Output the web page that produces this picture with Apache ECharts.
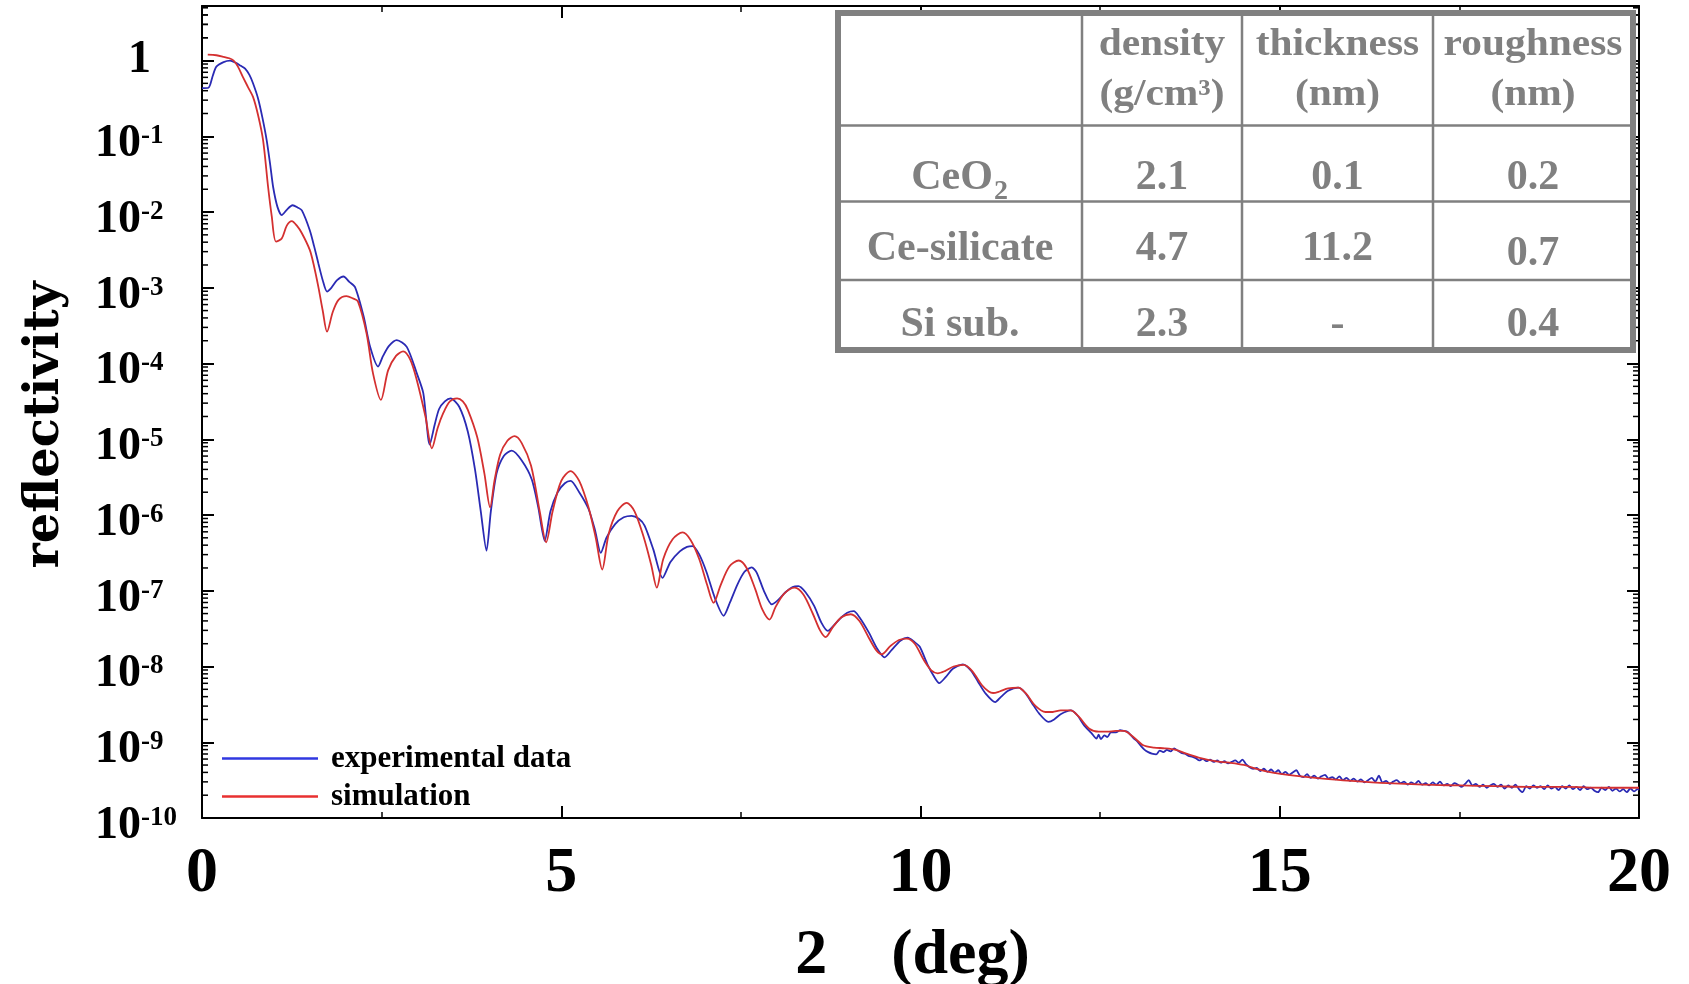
<!DOCTYPE html>
<html>
<head>
<meta charset="utf-8">
<script src="https://cdn.jsdelivr.net/npm/echarts@6/dist/echarts.min.js"></script>
<style>
html,body{margin:0;padding:0;background:#fff;}
#chart{width:1689px;height:984px;}
</style>
</head>
<body>
<div id="chart"></div>
<script>
// ---------- data ----------
const xTickValues = [0, 5, 10, 15, 20];
const yTickExponents = [-10, -9, -8, -7, -6, -5, -4, -3, -2, -1, 0];
const xAxisTitle = '2    (deg)';
const yAxisTitle = 'reflectivity';
const seriesNames = ['experimental data', 'simulation'];

const tableHeaders = ['', 'density\n(g/cm³)', 'thickness\n(nm)', 'roughness\n(nm)'];
const tableLayers = ['CeO2', 'Ce-silicate', 'Si sub.'];
const densityValues = ['2.1', '4.7', '2.3'];
const thicknessValues = ['0.1', '11.2', '-'];
const roughnessValues = ['0.2', '0.7', '0.4'];

const experimentalData = [
[0.00,4.32e-1],[0.09,4.37e-1],[0.15,6.31e-1],[0.20,8.32e-1],[0.30,9.55e-1],[0.39,1.0],[0.47,9.33e-1],[0.54,8.51e-1],
[0.60,7.83e-1],[0.66,6.46e-1],[0.71,5.01e-1],[0.78,3.16e-1],[0.84,1.78e-1],[0.90,8.91e-2],[0.95,4.17e-2],[0.99,2.14e-2],
[1.05,1.17e-2],[1.11,9.12e-3],[1.18,1.07e-2],[1.26,1.23e-2],[1.33,1.15e-2],[1.39,1.05e-2],[1.50,5.75e-3],[1.56,3.55e-3],
[1.62,2.09e-3],[1.68,1.26e-3],[1.74,8.91e-4],[1.80,1.0e-3],[1.88,1.26e-3],[1.97,1.41e-3],[2.05,1.20e-3],[2.13,1.02e-3],
[2.25,4.17e-4],[2.34,1.66e-4],[2.45,9.12e-5],[2.52,1.26e-4],[2.60,1.70e-4],[2.71,2.04e-4],[2.85,1.66e-4],[2.99,7.41e-5],
[3.08,4.07e-5],[3.17,8.51e-6],[3.24,1.58e-5],[3.30,2.51e-5],[3.38,3.16e-5],[3.46,3.47e-5],[3.58,2.69e-5],[3.70,1.26e-5],
[3.80,3.98e-6],[3.88,1.12e-6],[3.96,3.39e-7],[4.02,1.12e-6],[4.10,3.55e-6],[4.20,6.03e-6],[4.31,7.08e-6],[4.45,5.25e-6],
[4.59,2.95e-6],[4.68,1.26e-6],[4.77,4.57e-7],[4.85,1.12e-6],[4.95,2.0e-6],[5.05,2.63e-6],[5.13,2.82e-6],[5.25,2.0e-6],
[5.38,1.20e-6],[5.47,6.31e-7],[5.55,3.16e-7],[5.63,5.01e-7],[5.75,7.59e-7],[5.87,9.33e-7],[5.98,9.77e-7],[6.08,8.91e-7],
[6.16,7.24e-7],[6.28,3.55e-7],[6.41,1.48e-7],[6.52,2.40e-7],[6.65,3.31e-7],[6.75,3.80e-7],[6.83,3.89e-7],[6.92,3.02e-7],
[7.02,1.78e-7],[7.14,7.94e-8],[7.26,4.68e-8],[7.35,7.08e-8],[7.45,1.20e-7],[7.55,1.78e-7],[7.65,2.04e-7],[7.72,1.74e-7],
[7.82,1.0e-7],[7.93,6.61e-8],[8.02,7.59e-8],[8.12,9.55e-8],[8.22,1.12e-7],[8.30,1.15e-7],[8.40,9.55e-8],[8.52,6.31e-8],
[8.62,3.80e-8],[8.71,2.95e-8],[8.80,3.55e-8],[8.90,4.47e-8],[8.98,5.13e-8],[9.07,5.37e-8],[9.15,4.47e-8],[9.28,2.82e-8],
[9.40,1.70e-8],[9.50,1.32e-8],[9.60,1.66e-8],[9.72,2.19e-8],[9.82,2.40e-8],[9.92,2.09e-8],[9.99,1.82e-8],[10.10,1.05e-8],
[10.18,7.59e-9],[10.26,6.03e-9],[10.35,7.24e-9],[10.45,9.33e-9],[10.59,1.07e-8],[10.70,8.91e-9],[10.80,6.31e-9],[10.90,4.47e-9],
[11.04,3.39e-9],[11.12,3.98e-9],[11.22,4.79e-9],[11.36,5.25e-9],[11.45,4.57e-9],[11.55,3.31e-9],[11.65,2.40e-9],[11.78,1.86e-9],
[11.86,2.0e-9],[11.95,2.34e-9],[12.09,2.63e-9],[12.18,2.29e-9],[12.28,1.66e-9],[12.38,1.32e-9],[12.45,1.12e-9],[12.48,1.26e-9],
[12.51,1.10e-9],[12.56,1.23e-9],[12.60,1.17e-9],[12.65,1.35e-9],[12.72,1.35e-9],[12.78,1.45e-9],[12.83,1.41e-9],[12.88,1.38e-9],
[12.92,1.26e-9],[12.97,1.12e-9],[13.02,1.02e-9],[13.07,8.91e-10],[13.12,7.94e-10],[13.17,7.41e-10],[13.22,7.08e-10],[13.28,6.92e-10],
[13.33,7.76e-10],[13.38,7.41e-10],[13.43,7.94e-10],[13.48,7.59e-10],[13.53,8.32e-10],[13.58,7.76e-10],[13.63,7.24e-10],[13.68,7.08e-10],
[13.73,6.61e-10],[13.78,6.46e-10],[13.83,6.17e-10],[13.88,5.75e-10],[13.93,6.03e-10],[13.98,5.62e-10],[14.03,5.89e-10],[14.08,5.50e-10],
[14.13,5.75e-10],[14.18,5.37e-10],[14.23,5.62e-10],[14.28,5.25e-10],[14.33,5.50e-10],[14.38,5.75e-10],[14.43,5.37e-10],[14.48,5.89e-10],
[14.53,5.13e-10],[14.58,4.68e-10],[14.63,4.47e-10],[14.68,4.57e-10],[14.73,4.17e-10],[14.78,4.47e-10],[14.83,4.07e-10],[14.88,4.37e-10],
[14.93,3.98e-10],[14.98,4.27e-10],[15.03,3.80e-10],[15.08,4.07e-10],[15.13,3.72e-10],[15.18,3.98e-10],[15.23,4.27e-10],[15.28,3.63e-10],
[15.33,3.47e-10],[15.38,3.80e-10],[15.43,3.39e-10],[15.48,3.63e-10],[15.53,3.31e-10],[15.58,3.55e-10],[15.63,3.72e-10],[15.68,3.31e-10],
[15.73,3.47e-10],[15.78,3.24e-10],[15.83,3.55e-10],[15.88,3.16e-10],[15.93,3.39e-10],[15.98,3.09e-10],[16.03,3.31e-10],[16.08,3.02e-10],
[16.13,3.24e-10],[16.18,2.95e-10],[16.23,3.16e-10],[16.28,3.39e-10],[16.33,3.02e-10],[16.38,3.63e-10],[16.43,2.95e-10],[16.48,3.09e-10],
[16.53,2.82e-10],[16.58,3.02e-10],[16.63,3.16e-10],[16.68,2.88e-10],[16.73,3.02e-10],[16.78,2.75e-10],[16.83,2.95e-10],[16.88,2.82e-10],
[16.93,3.09e-10],[16.98,2.75e-10],[17.03,2.88e-10],[17.08,2.69e-10],[17.13,2.95e-10],[17.18,2.75e-10],[17.23,3.02e-10],[17.28,2.69e-10],
[17.33,2.82e-10],[17.38,2.63e-10],[17.43,2.88e-10],[17.48,2.75e-10],[17.53,2.57e-10],[17.58,2.82e-10],[17.63,3.16e-10],[17.68,2.69e-10],
[17.73,2.82e-10],[17.78,2.57e-10],[17.83,2.75e-10],[17.88,2.51e-10],[17.93,2.69e-10],[17.98,2.82e-10],[18.03,2.57e-10],[18.08,2.75e-10],
[18.13,2.45e-10],[18.18,2.69e-10],[18.23,2.51e-10],[18.28,2.75e-10],[18.33,2.40e-10],[18.38,2.19e-10],[18.43,2.63e-10],[18.48,2.45e-10],
[18.53,2.69e-10],[18.58,2.51e-10],[18.63,2.63e-10],[18.68,2.40e-10],[18.73,2.69e-10],[18.78,2.45e-10],[18.83,2.57e-10],[18.88,2.34e-10],
[18.93,2.63e-10],[18.98,2.45e-10],[19.03,2.69e-10],[19.08,2.40e-10],[19.13,2.57e-10],[19.18,2.34e-10],[19.23,2.63e-10],[19.28,2.40e-10],
[19.33,2.51e-10],[19.38,2.29e-10],[19.43,2.19e-10],[19.48,2.51e-10],[19.53,2.34e-10],[19.58,2.57e-10],[19.63,2.29e-10],[19.68,2.45e-10],
[19.73,2.24e-10],[19.78,2.40e-10],[19.83,2.19e-10],[19.88,2.45e-10],[19.93,2.24e-10],[19.98,2.40e-10],[20.00,2.34e-10]
];

const simulationData = [
[0.08,1.20],[0.20,1.175],[0.30,1.122],[0.38,1.072],[0.44,1.0],[0.50,8.32e-1],[0.57,6.03e-1],[0.64,4.47e-1],
[0.71,3.31e-1],[0.78,1.91e-1],[0.85,8.91e-2],[0.92,2.14e-2],[0.97,8.91e-3],[1.03,4.07e-3],[1.11,4.47e-3],[1.18,6.61e-3],
[1.25,7.59e-3],[1.32,6.61e-3],[1.39,5.25e-3],[1.50,3.16e-3],[1.56,1.91e-3],[1.62,1.02e-3],[1.68,5.01e-4],[1.74,2.63e-4],
[1.82,4.79e-4],[1.90,6.92e-4],[2.01,7.76e-4],[2.10,7.24e-4],[2.17,6.61e-4],[2.29,2.51e-4],[2.38,7.41e-5],[2.49,3.31e-5],
[2.59,8.13e-5],[2.70,1.26e-4],[2.80,1.45e-4],[2.90,1.12e-4],[2.99,6.03e-5],[3.11,2.0e-5],[3.20,7.59e-6],[3.28,1.41e-5],
[3.36,2.24e-5],[3.45,3.16e-5],[3.55,3.47e-5],[3.63,3.16e-5],[3.70,2.45e-5],[3.83,1.07e-5],[3.93,3.55e-6],[4.01,1.26e-6],
[4.07,2.82e-6],[4.15,6.31e-6],[4.25,9.55e-6],[4.35,1.10e-5],[4.45,8.91e-6],[4.58,4.47e-6],[4.70,1.12e-6],[4.79,4.37e-7],
[4.88,1.12e-6],[5.00,2.82e-6],[5.13,3.80e-6],[5.25,2.82e-6],[5.38,1.26e-6],[5.48,5.01e-7],[5.57,1.91e-7],[5.66,5.62e-7],
[5.78,1.12e-6],[5.91,1.45e-6],[6.02,1.12e-6],[6.15,5.01e-7],[6.25,2.24e-7],[6.33,1.10e-7],[6.42,2.63e-7],[6.55,4.79e-7],
[6.69,5.89e-7],[6.80,4.68e-7],[6.92,2.63e-7],[7.03,1.20e-7],[7.12,6.92e-8],[7.22,1.20e-7],[7.34,2.09e-7],[7.47,2.51e-7],
[7.58,2.0e-7],[7.70,1.05e-7],[7.80,5.62e-8],[7.90,4.17e-8],[7.98,6.03e-8],[8.10,9.12e-8],[8.25,1.10e-7],[8.37,8.91e-8],
[8.50,5.01e-8],[8.60,3.02e-8],[8.68,2.45e-8],[8.78,3.31e-8],[8.90,4.47e-8],[9.03,4.90e-8],[9.15,3.98e-8],[9.28,2.40e-8],
[9.38,1.66e-8],[9.46,1.45e-8],[9.58,1.86e-8],[9.70,2.24e-8],[9.81,2.34e-8],[9.92,2.0e-8],[10.05,1.20e-8],[10.15,8.91e-9],
[10.24,8.13e-9],[10.34,8.71e-9],[10.46,1.0e-8],[10.60,1.05e-8],[10.72,8.71e-9],[10.85,5.75e-9],[10.95,4.68e-9],[11.01,4.47e-9],
[11.10,4.68e-9],[11.22,5.13e-9],[11.36,5.25e-9],[11.47,4.37e-9],[11.60,3.02e-9],[11.74,2.51e-9],[11.84,2.51e-9],[11.95,2.63e-9],
[12.09,2.63e-9],[12.20,2.19e-9],[12.35,1.51e-9],[12.48,1.38e-9],[12.60,1.38e-9],[12.72,1.41e-9],[12.83,1.41e-9],[12.95,1.20e-9],
[13.10,9.12e-10],[13.25,8.51e-10],[13.40,8.32e-10],[13.55,7.94e-10],[13.70,7.08e-10],[13.90,6.17e-10],[14.10,5.62e-10],[14.30,5.37e-10],
[14.50,5.01e-10],[14.70,4.37e-10],[14.90,3.98e-10],[15.20,3.63e-10],[15.60,3.31e-10],[16.00,3.09e-10],[16.50,2.88e-10],[17.00,2.75e-10],
[17.50,2.69e-10],[18.00,2.63e-10],[18.50,2.57e-10],[19.00,2.57e-10],[19.50,2.51e-10],[20.00,2.51e-10]
];

// ---------- style / layout ----------
const SERIF = "'Liberation Serif','Times New Roman',serif";
const BLACK = '#000';
const GRAY = '#808080';
const X_MIN = 0, X_MAX = 20, Y_MIN = 1e-10, Y_MAX = 5.25;
const Y_EXP_MAX = Math.log10(Y_MAX);

// minor log ticks (2..9 per decade)
const minorTickValues = [];
for (let d = -10; d <= 0; d++) {
  for (let m = 2; m <= 9; m++) {
    const v = m * Math.pow(10, d);
    if (v < Y_MAX) minorTickValues.push(v);
  }
}
for (let m = 2; m <= 9; m++) { if (m < Y_MAX) minorTickValues.push(m); }

function yLabel(value) {
  const n = Math.round(value);
  if (Math.abs(value - n) > 1e-6 || yTickExponents.indexOf(n) < 0) return '';
  if (n === 0) return '{one|1}';
  return '{b|10}{s|' + n + '}';
}

// table graphics
const colX = [838, 1082, 1242, 1433, 1633];
const rowY = [13, 125.5, 201.5, 280, 350];
const rowTextY = [178, 249, 325];
const tableEls = [];
tableEls.push({type:'rect', shape:{x:colX[0], y:rowY[0], width:colX[4]-colX[0], height:rowY[4]-rowY[0]},
  style:{fill:'#fff', stroke:GRAY, lineWidth:6}, z:100});
for (let i = 1; i < 4; i++) {
  tableEls.push({type:'line', shape:{x1:colX[i], y1:rowY[0], x2:colX[i], y2:rowY[4]}, style:{stroke:GRAY, lineWidth:2.5}, z:101});
  tableEls.push({type:'line', shape:{x1:colX[0], y1:rowY[i], x2:colX[4], y2:rowY[i]}, style:{stroke:GRAY, lineWidth:2.5}, z:101});
}
function cellText(txt, cx, cy, size, extra, styleExtra) {
  return Object.assign({type:'text', x:cx, y:cy, z:102,
    style:Object.assign({text:txt, fontSize:size, fontWeight:'bold', fontFamily:SERIF, fill:GRAY,
      align:'center', verticalAlign:'middle', textAlign:'center', textVerticalAlign:'middle', lineHeight:50}, styleExtra || {})}, extra || {});
}
for (let c = 1; c < 4; c++) {
  tableEls.push(cellText(tableHeaders[c], (colX[c]+colX[c+1])/2, 70, 37, {scaleX:1.12}));
}
const bodyCols = [densityValues, thicknessValues, roughnessValues];
for (let r = 0; r < 3; r++) {
  const cx0 = (colX[0]+colX[1])/2;
  if (tableLayers[r] === 'CeO2') {
    tableEls.push(cellText('CeO', cx0 - 8, rowTextY[r], 42));
    tableEls.push(cellText('2', cx0 + 34, rowTextY[r] + 14, 28, null, {align:'left', textAlign:'left'}));
  } else {
    tableEls.push(cellText(tableLayers[r], cx0, rowTextY[r], 42));
  }
  for (let c = 0; c < 3; c++) {
    let cy = rowTextY[r];
    if (r === 1 && c === 2) cy += 5;
    tableEls.push(cellText(bodyCols[c][r], (colX[c+1]+colX[c+2])/2, cy, 42));
  }
}

const axisLineStyle = {show:true, onZero:false, lineStyle:{color:BLACK, width:2}};

const option = {
  animation: false,
  backgroundColor: '#fff',
  grid: {left:202, right:50, top:6, bottom:166, containLabel:false, outerBoundsMode:'none'},
  legend: {
    data: [{name:seriesNames[0], itemStyle:{color:'#3038e0'}}, {name:seriesNames[1], itemStyle:{color:'#e83030'}}],
    orient:'vertical', left:217, top:738, itemWidth:96, itemHeight:2.5, itemGap:7, icon:'rect',
    textStyle:{fontSize:31, fontWeight:'bold', fontFamily:SERIF, color:BLACK, lineHeight:31, padding:[0,0,0,8]}
  },
  xAxis: [
    {type:'value', min:X_MIN, max:X_MAX, interval:5, position:'bottom',
     axisLine:axisLineStyle, splitLine:{show:false},
     axisTick:{show:true, inside:true, length:12, lineStyle:{color:BLACK, width:2}},
     minorTick:{show:true, splitNumber:2, length:6, lineStyle:{color:BLACK, width:1.5}},
     axisLabel:{show:true, margin:24, fontSize:64, fontWeight:'bold', fontFamily:SERIF, color:BLACK,
       formatter: v => (xTickValues.indexOf(v) >= 0 ? String(v) : '')},
     name:xAxisTitle, nameLocation:'middle', nameGap:106,
     nameTextStyle:{fontSize:64, fontWeight:'bold', fontFamily:SERIF, color:BLACK, padding:[0,16,0,0]}},
    {type:'value', min:X_MIN, max:X_MAX, interval:5, position:'top',
     axisLine:axisLineStyle, splitLine:{show:false},
     axisTick:{show:true, inside:true, length:12, lineStyle:{color:BLACK, width:2}},
     minorTick:{show:true, splitNumber:2, length:6, lineStyle:{color:BLACK, width:1.5}},
     axisLabel:{show:false}}
  ],
  yAxis: [
    {type:'log', logBase:10, min:Y_MIN, max:Y_MAX, show:false, position:'left'},
    {type:'value', min:-10, max:Y_EXP_MAX, interval:1, position:'left',
     axisLine:axisLineStyle, splitLine:{show:false},
     axisTick:{show:true, inside:true, length:12, lineStyle:{color:BLACK, width:2}},
     axisLabel:{show:true, align:'left', margin:107, formatter:yLabel,
       rich:{
         b:{fontSize:46, fontWeight:'bold', fontFamily:SERIF, color:BLACK, lineHeight:46, verticalAlign:'bottom'},
         s:{fontSize:27, fontWeight:'bold', fontFamily:SERIF, color:BLACK, lineHeight:62, verticalAlign:'middle'},
         one:{fontSize:46, fontWeight:'bold', fontFamily:SERIF, color:BLACK, lineHeight:46, padding:[0,0,0,33]}
       }}},
    {type:'value', min:-10, max:Y_EXP_MAX, interval:1, position:'right',
     axisLine:axisLineStyle, splitLine:{show:false},
     axisTick:{show:true, inside:true, length:12, lineStyle:{color:BLACK, width:2}},
     axisLabel:{show:false}}
  ],
  graphic: {elements: [
    {type:'text', x:46, y:425, rotation:Math.PI/2, z:50,
     style:{text:yAxisTitle, fontSize:48, fontWeight:'bold', fontFamily:"'DejaVu Serif',serif", fill:BLACK,
       align:'center', verticalAlign:'middle', textAlign:'center', textVerticalAlign:'middle'}}
  ].concat(tableEls)},
  series: [
    {type:'custom', name:'minorTicks', xAxisIndex:0, yAxisIndex:0, silent:true, z:1,
     data: minorTickValues.map(v => [X_MIN, v]),
     renderItem: function (params, api) {
       const v = api.value(1);
       const l = api.coord([X_MIN, v]);
       const r = api.coord([X_MAX, v]);
       return {type:'group', children:[
         {type:'line', shape:{x1:l[0], y1:l[1], x2:l[0]+6, y2:l[1]}, style:{stroke:BLACK, lineWidth:1.5}},
         {type:'line', shape:{x1:r[0]-6, y1:r[1], x2:r[0], y2:r[1]}, style:{stroke:BLACK, lineWidth:1.5}}
       ]};
     }},
    {type:'line', name:seriesNames[0], xAxisIndex:0, yAxisIndex:0, data:experimentalData,
     symbol:'none', smooth:0.25, z:3,
     lineStyle:{color:'#2a2ab4', width:1.8}, itemStyle:{color:'#2a2ab4'}},
    {type:'line', name:seriesNames[1], xAxisIndex:0, yAxisIndex:0, data:simulationData,
     symbol:'none', smooth:0.3, z:4,
     lineStyle:{color:'#d43030', width:1.8}, itemStyle:{color:'#d43030'}}
  ]
};

const chart = echarts.init(document.getElementById('chart'), null, {renderer:'canvas'});
chart.setOption(option);
</script>
</body>
</html>
